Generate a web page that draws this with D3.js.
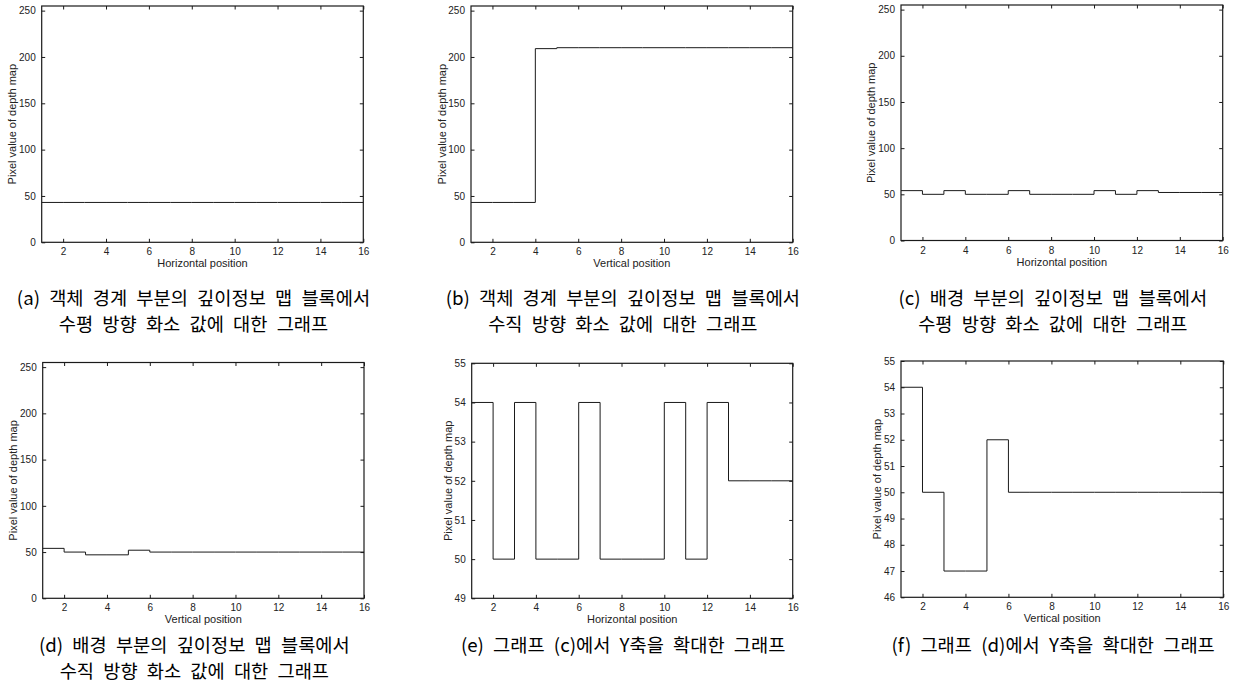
<!DOCTYPE html>
<html>
<head>
<meta charset="utf-8">
<script src="https://cdn.jsdelivr.net/npm/d3@7"></script>
<style>
  html, body { margin: 0; padding: 0; background: #fff; }
  svg { display: block; }
  .tick text { font-family: "Liberation Sans", Arial, sans-serif; }
</style>
</head>
<body>
<svg id="chart" width="1234" height="691"></svg>
<script>
// ---------- data ----------
const positions = d3.range(1, 17); // 1..16
const valuesA = [43,43,43,43,43,43,43,43,43,43,43,43,43,43,43,43];
const valuesB = [43,43,43,209,210,210,210,210,210,210,210,210,210,210,210,210];
const valuesC = [54,50,54,50,50,54,50,50,50,54,50,54,52,52,52,52];
const valuesD = [54,50,47,47,52,50,50,50,50,50,50,50,50,50,50,50];
const xTicks = [2,4,6,8,10,12,14,16];
const yTicksFull = [0,50,100,150,200,250];
const yTicksE = [49,50,51,52,53,54,55];
const yTicksF = [46,47,48,49,50,51,52,53,54,55];
const yDomainFull = [0,255];
const yDomainE = [49,55];
const yDomainF = [46,55];
const xLabels = ["Horizontal position","Vertical position","Horizontal position","Vertical position","Horizontal position","Vertical position"];
const yLabel = "Pixel value of depth map";
const captions = [
  ["(a) 객체 경계 부분의 깊이정보 맵 블록에서", "수평 방향 화소 값에 대한 그래프"],
  ["(b) 객체 경계 부분의 깊이정보 맵 블록에서", "수직 방향 화소 값에 대한 그래프"],
  ["(c) 배경 부분의 깊이정보 맵 블록에서", "수평 방향 화소 값에 대한 그래프"],
  ["(d) 배경 부분의 깊이정보 맵 블록에서", "수직 방향 화소 값에 대한 그래프"],
  ["(e) 그래프 (c)에서 Y축을 확대한 그래프"],
  ["(f) 그래프 (d)에서 Y축을 확대한 그래프"]
];

// ---------- layout ----------
const frames = [
  {L:41.7, R:363.3, T:6,   B:242.3, capY:296, labOff:30},
  {L:471,  R:792.7, T:6,   B:242.3, capY:296, labOff:29},
  {L:901,  R:1222.7,T:5,   B:240.5, capY:296, labOff:30},
  {L:42.7, R:364,   T:362.5, B:598.3, capY:643, labOff:30},
  {L:471.7,R:792.7, T:363.3, B:598.3, capY:643, labOff:24},
  {L:901,  R:1223.3,T:361, B:597.3, capY:643, labOff:24}
];
const series = [valuesA, valuesB, valuesC, valuesD, valuesC, valuesD];
const yDomains = [yDomainFull, yDomainFull, yDomainFull, yDomainFull, yDomainE, yDomainF];
const yTickSets = [yTicksFull, yTicksFull, yTicksFull, yTicksFull, yTicksE, yTicksF];

const svg = d3.select("#chart");
const ink = "#1a1a1a";
const fmt = d3.format("d");

frames.forEach((f, i) => {
  const x = d3.scaleLinear().domain([1,16]).range([f.L, f.R]);
  const y = d3.scaleLinear().domain(yDomains[i]).range([f.B, f.T]);
  const g = svg.append("g");
  const tl = 3.5;

  const bottom = g.append("g").attr("transform", `translate(0,${f.B})`)
    .call(d3.axisBottom(x).tickValues(xTicks).tickFormat(fmt).tickSizeInner(-tl).tickSizeOuter(0).tickPadding(6));
  const left = g.append("g").attr("transform", `translate(${f.L},0)`)
    .call(d3.axisLeft(y).tickValues(yTickSets[i]).tickFormat(fmt).tickSizeInner(-tl).tickSizeOuter(0).tickPadding(6));
  const top = g.append("g").attr("transform", `translate(0,${f.T})`)
    .call(d3.axisTop(x).tickValues(xTicks).tickSizeInner(-tl).tickSizeOuter(0).tickFormat(""));
  const right = g.append("g").attr("transform", `translate(${f.R},0)`)
    .call(d3.axisRight(y).tickValues(yTickSets[i]).tickSizeInner(-tl).tickSizeOuter(0).tickFormat(""));
  [bottom, left, top, right].forEach(a => {
    a.select(".domain").remove();
    a.selectAll(".tick line").attr("stroke", ink).attr("stroke-width", 1);
    a.selectAll(".tick text").attr("fill", "#222").attr("font-size", 10);
  });

  g.append("rect").attr("x", f.L).attr("y", f.T)
    .attr("width", f.R - f.L).attr("height", f.B - f.T)
    .attr("fill", "none").attr("stroke", ink).attr("stroke-width", 1.2);

  const pts = positions.map((p, k) => [p, series[i][k]]);
  const line = d3.line().x(d => x(d[0])).y(d => y(d[1])).curve(d3.curveStepAfter);
  g.append("path").datum(pts).attr("d", line)
    .attr("fill", "none").attr("stroke", ink).attr("stroke-width", 1);

  g.append("text").attr("x", (f.L + f.R) / 2).attr("y", f.B + 21)
    .attr("text-anchor", "middle").attr("dominant-baseline", "central")
    .attr("font-family", "Liberation Sans, Arial, sans-serif").attr("font-size", 11)
    .attr("fill", "#222").text(xLabels[i]);
  g.append("text")
    .attr("transform", `translate(${f.L - f.labOff},${(f.T + f.B) / 2}) rotate(-90)`)
    .attr("text-anchor", "middle").attr("dominant-baseline", "central")
    .attr("font-family", "Liberation Sans, Arial, sans-serif").attr("font-size", 11)
    .attr("fill", "#222").text(yLabel);

  const cx = (f.L + f.R) / 2 - 9;
  captions[i].forEach((c, k) => {
    g.append("text").attr("x", cx).attr("y", f.capY + k * 26)
      .attr("text-anchor", "middle").attr("dominant-baseline", "central")
      .attr("font-family", "Noto Sans CJK KR, sans-serif").attr("font-size", 18.7)
      .attr("word-spacing", 5)
      .attr("fill", "#000").text(c);
  });
});
</script>
</body>
</html>
